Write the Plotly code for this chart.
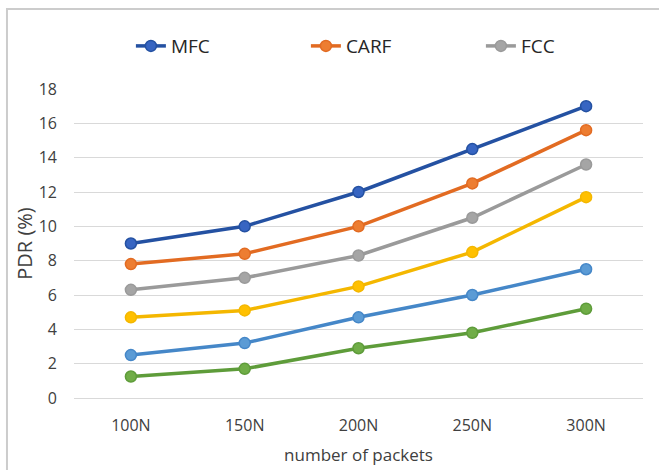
import plotly.graph_objects as go

# Packet counts on the x axis
categories = ["100N", "150N", "200N", "250N", "300N"]

# PDR (%) per scheme
mfc = [9.0, 10.0, 12.0, 14.5, 17.0]
carf = [7.8, 8.4, 10.0, 12.5, 15.6]
fcc = [6.3, 7.0, 8.3, 10.5, 13.6]
series4 = [4.7, 5.1, 6.5, 8.5, 11.7]
series5 = [2.5, 3.2, 4.7, 6.0, 7.5]
series6 = [1.25, 1.7, 2.9, 3.8, 5.2]

y_ticks = [0, 2, 4, 6, 8, 10, 12, 14, 16, 18]

series = [
    ("MFC", mfc, "#2451A2", "#3765C2", True),
    ("CARF", carf, "#E26B22", "#ED7D31", True),
    ("FCC", fcc, "#9A9A9A", "#A5A5A5", True),
    ("Series 4", series4, "#F4B700", "#FFC000", False),
    ("Series 5", series5, "#4587C8", "#5B9BD5", False),
    ("Series 6", series6, "#5E9C3A", "#70AD47", False),
]

FONT = "Open Sans"
TEXT = "#404040"

fig = go.Figure()
for name, vals, line_c, mark_c, show in series:
    fig.add_trace(go.Scatter(
        x=categories, y=vals, name=name, mode="lines+markers",
        line=dict(color=line_c, width=3.5),
        marker=dict(size=11, color=mark_c, line=dict(color=line_c, width=1.5)),
        showlegend=show,
    ))

fig.update_layout(
    width=659, height=470,
    margin=dict(l=74, r=16, t=89, b=72, autoexpand=False),
    paper_bgcolor="white", plot_bgcolor="white",
    font=dict(family=FONT, size=16, color=TEXT),
    legend=dict(
        orientation="h", x=0.1, xanchor="left", y=1.139, yanchor="middle",
        entrywidth=130, entrywidthmode="pixels",
        font=dict(family=FONT, size=19, color="#262626"),
        bgcolor="rgba(0,0,0,0)",
    ),
    xaxis=dict(
        type="category", range=[-0.5, 4.5], automargin=False,
        showgrid=False, showline=False, ticks="",
        ticklabelstandoff=16,
        tickfont=dict(family=FONT, size=16, color=TEXT),
        title=dict(text="number of packets", standoff=14,
                   font=dict(family=FONT, size=17, color=TEXT)),
    ),
    yaxis=dict(
        range=[0, 18], tickvals=y_ticks, automargin=False,
        showgrid=True, gridcolor="#D9D9D9", gridwidth=1.2,
        zeroline=True, zerolinecolor="#D9D9D9", zerolinewidth=1.2,
        showline=False, ticks="",
        ticklabelstandoff=16,
        tickfont=dict(family=FONT, size=16, color=TEXT),
        title=dict(text="PDR (%)", standoff=0,
                   font=dict(family=FONT, size=20, color=TEXT)),
    ),
    shapes=[dict(
        type="rect", xref="paper", yref="paper",
        x0=-0.1178, x1=1.2, y0=-0.4, y1=1.2589,
        line=dict(color="#CCCCCC", width=2), fillcolor="rgba(0,0,0,0)",
        layer="below",
    )],
)

fig.write_html("out.html")
